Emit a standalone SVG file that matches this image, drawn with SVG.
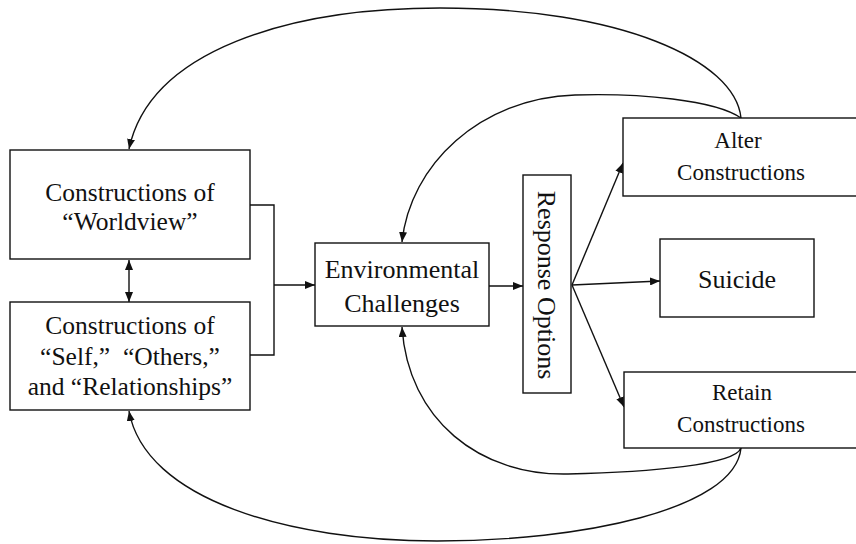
<svg xmlns="http://www.w3.org/2000/svg" width="856" height="544" viewBox="0 0 856 544" font-family="'Liberation Serif', 'Times New Roman', serif">
  <style>
    .box { fill: #ffffff; stroke: #111111; stroke-width: 1.4; }
    text { font-family: "Liberation Serif", "Times New Roman", serif; fill: #111111; text-anchor: middle; }
    .big { font-size: 26px; }
    .mid { font-size: 25.5px; }
    .sm { font-size: 23px; }
    .wire { fill: none; stroke: #111111; stroke-width: 1.4; }
  </style>
  <defs>
    <marker id="head" viewBox="0 0 10 8" refX="10" refY="4" markerWidth="10" markerHeight="8" markerUnits="userSpaceOnUse" orient="auto-start-reverse">
      <path d="M0,0 L10,4 L0,8 Z" fill="#111111"/>
    </marker>
  </defs>
  <rect width="856" height="544" fill="#ffffff"/>

  <g id="connectors">
    <!-- feedback loops from Alter Constructions -->
    <path class="wire" d="M741,118 C735,60 620,8 440,8 C290,8 150,50 129,149" marker-end="url(#head)"/>
    <path class="wire" d="M741,118 C715,100 640,93 575,95 C480,98 410,165 402,242" marker-end="url(#head)"/>
    <!-- feedback loops from Retain Constructions -->
    <path class="wire" d="M741,448 C735,465 650,472 568,474 C480,476 408,420 402,327" marker-end="url(#head)"/>
    <path class="wire" d="M741,448 C735,510 580,541 437,541 C290,541 145,500 129,411" marker-end="url(#head)"/>
    <!-- worldview / self link -->
    <path class="wire" d="M129,260 L129,302" marker-start="url(#head)" marker-end="url(#head)"/>
    <!-- bracket joining both construction boxes -->
    <path class="wire" d="M250,205 H274 V355 H250"/>
    <path class="wire" d="M274,285 H315" marker-end="url(#head)"/>
    <!-- challenges to responses -->
    <path class="wire" d="M489,286 H523" marker-end="url(#head)"/>
    <!-- response fan -->
    <path class="wire" d="M572,285 L623,163" marker-end="url(#head)"/>
    <path class="wire" d="M572,285 L660,281" marker-end="url(#head)"/>
    <path class="wire" d="M572,285 L624,407" marker-end="url(#head)"/>
  </g>

  <g id="worldview">
    <rect class="box" x="10" y="150" width="240" height="109"/>
    <text class="mid" x="130" y="201">Constructions of</text>
    <text class="mid" x="130" y="230">“Worldview”</text>
  </g>

  <g id="self">
    <rect class="box" x="10" y="302" width="240" height="108"/>
    <text class="mid" x="130" y="334">Constructions of</text>
    <text class="mid" x="130" y="365" xml:space="preserve">“Self,”  “Others,”</text>
    <text class="mid" x="130" y="395">and “Relationships”</text>
  </g>

  <g id="challenges">
    <rect class="box" x="315" y="243" width="174" height="83"/>
    <text class="big" x="402" y="278">Environmental</text>
    <text class="big" x="402" y="312">Challenges</text>
  </g>

  <g id="responses">
    <rect class="box" x="523" y="175" width="48" height="218"/>
    <text class="big" transform="translate(538,285) rotate(90)">Response Options</text>
  </g>

  <g id="alter">
    <rect class="box" x="623" y="118" width="250" height="78"/>
    <text class="sm" x="738" y="148">Alter</text>
    <text class="sm" x="741" y="180">Constructions</text>
  </g>

  <g id="suicide">
    <rect class="box" x="660" y="239" width="154" height="78"/>
    <text class="big" x="737" y="288">Suicide</text>
  </g>

  <g id="retain">
    <rect class="box" x="624" y="372" width="250" height="76"/>
    <text class="sm" x="742" y="400">Retain</text>
    <text class="sm" x="741" y="432">Constructions</text>
  </g>
</svg>
